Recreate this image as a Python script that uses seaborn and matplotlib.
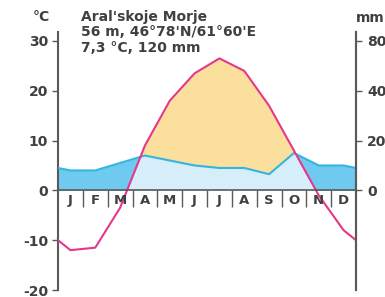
import numpy as np
import pandas as pd
import seaborn as sns
import matplotlib.pyplot as plt

# climate data, Aral'skoje Morje
months = ['J', 'F', 'M', 'A', 'M', 'J', 'J', 'A', 'S', 'O', 'N', 'D']
temp_c = [-12, -11.5, -3.5, 9, 18, 23.5, 26.5, 24, 17, 8, -1, -8]
precip_mm = [8, 8, 11, 14, 12, 10, 9, 9, 6.5, 15, 10, 10]
temp_ticks = [-20, -10, 0, 10, 20, 30]
mm_tick_pos = [0, 10, 20, 30]
mm_tick_labels = ['0', '20', '40', '80']

sns.set_style('white')
plt.rcParams['font.family'] = ['DejaVu Sans']
plt.rcParams['axes.unicode_minus'] = False

TEMP = '#e6378b'
RAIN = '#33b5e0'
DARK_BLUE = '#6fcaf0'
LIGHT_BLUE = '#d6eef9'
YELLOW = '#fbdf9c'
AXIS = '#5a5a5a'
TXT = '#404040'

# month centres plus wrap-around at both edges
x = np.arange(12) + 0.5
t_edge = (temp_c[0] + temp_c[-1]) / 2
p_edge = (precip_mm[0] + precip_mm[-1]) / 2
df = pd.DataFrame({
    'x': np.concatenate([[0], x, [12]]),
    'temp': np.concatenate([[t_edge], temp_c, [t_edge]]),
    'precip': np.concatenate([[p_edge], precip_mm, [p_edge]]) / 2,
})

fig = plt.figure(figsize=(3.85, 2.97), dpi=100)
ax = fig.add_axes([58 / 385, 7 / 297, 298 / 385, 258 / 297])

xs, ts, ps = df['x'].values, df['temp'].values, df['precip'].values
ax.fill_between(xs, 0, ps, color=DARK_BLUE, lw=0, zorder=1)
ax.fill_between(xs, 0, ts, where=ts > 0, interpolate=True, color=LIGHT_BLUE, lw=0, zorder=2)
ax.fill_between(xs, ps, ts, where=ts > ps, interpolate=True, color=YELLOW, lw=0, zorder=3)

sns.lineplot(data=df, x='x', y='precip', color=RAIN, lw=1.5, ax=ax, zorder=4)
sns.lineplot(data=df, x='x', y='temp', color=TEMP, lw=1.5, ax=ax, zorder=5)

ax.axhline(0, color=AXIS, lw=1.2, zorder=6, clip_on=False)
ax.vlines(np.arange(1, 12), -3.4, 0, color=AXIS, lw=1, zorder=6)
for xi, m in zip(x, months):
    ax.text(xi, -2, m, ha='center', va='center', fontsize=9.5, fontweight='bold', color=TXT, zorder=7)

ax.set_xlim(0, 12)
ax.set_ylim(-20, 31.8)
ax.set_xticks([])
ax.set_yticks(temp_ticks)
ax.set_xlabel('')
ax.set_ylabel('')
for s in ['top', 'bottom']:
    ax.spines[s].set_visible(False)
for s in ['left', 'right']:
    ax.spines[s].set_color(AXIS)
    ax.spines[s].set_linewidth(1.5)
ax.tick_params(axis='y', left=True, length=4, width=1, color=AXIS, labelsize=10, labelcolor=TXT, pad=3)

ax2 = ax.twinx()
ax2.set_ylim(ax.get_ylim())
ax2.set_yticks(mm_tick_pos)
ax2.set_yticklabels(mm_tick_labels)
for s in ['top', 'bottom', 'left']:
    ax2.spines[s].set_visible(False)
ax2.spines['right'].set_color(AXIS)
ax2.spines['right'].set_linewidth(1.5)
ax2.tick_params(axis='y', right=True, length=4, width=1, color=AXIS, labelsize=10, labelcolor=TXT, pad=4)
for lab in ax.get_yticklabels() + ax2.get_yticklabels():
    lab.set_fontweight('bold')

fig.text(33 / 385, 1 - 17 / 297, '°C', fontsize=10, fontweight='bold', color=TXT, va='center')
fig.text(356 / 385, 1 - 18 / 297, 'mm', fontsize=10, fontweight='bold', color=TXT, va='center')
info = ["Aral'skoje Morje", "56 m, 46°78'N/61°60'E", "7,3 °C, 120 mm"]
for i, line in enumerate(info):
    fig.text(81 / 385, 1 - (17 + 15.5 * i) / 297, line, fontsize=10, fontweight='bold', color=TXT, va='center')

fig.savefig('out.png', dpi=100)
